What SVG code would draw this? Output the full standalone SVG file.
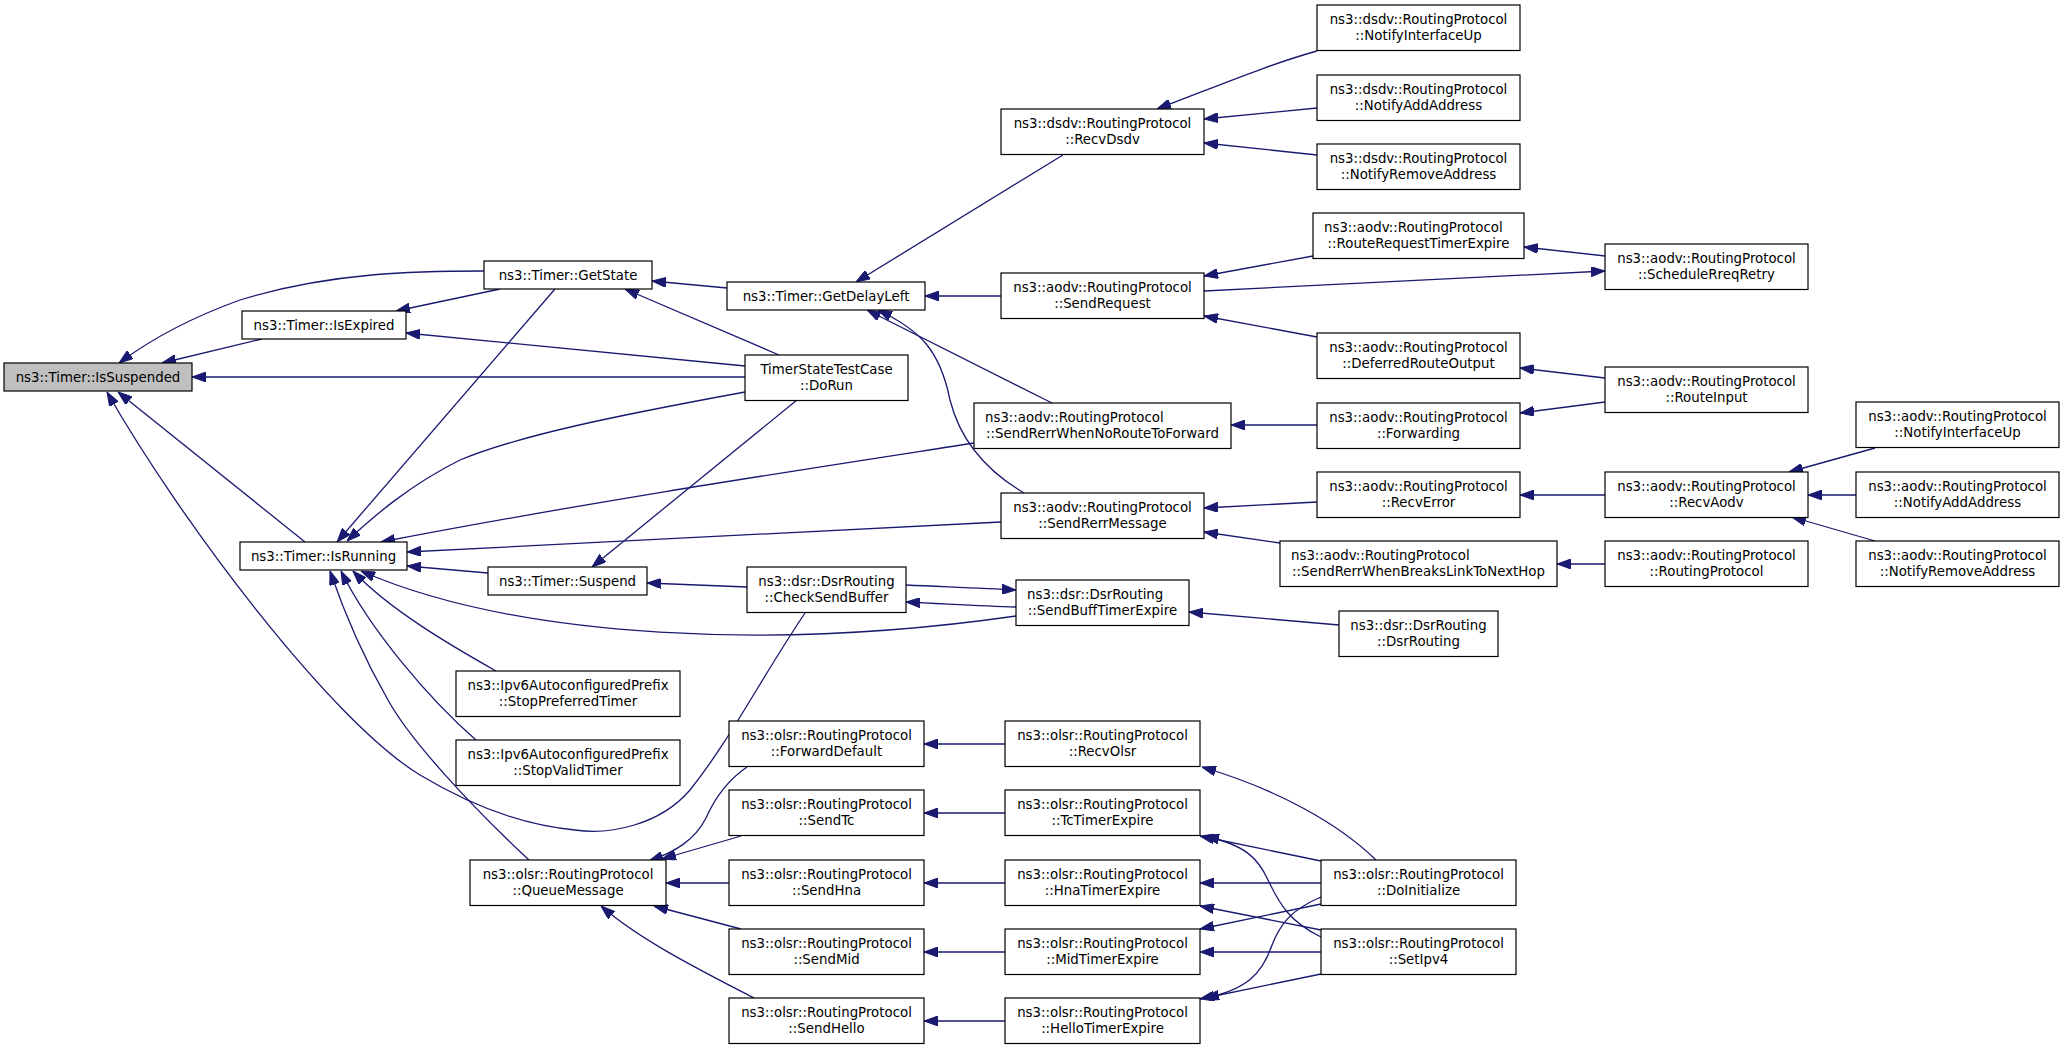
<svg xmlns="http://www.w3.org/2000/svg" width="2064" height="1049" viewBox="0 0 2064 1049">
<style>
.node rect{fill:#ffffff;stroke:#000000;stroke-width:1.2}
.node text{font-family:"DejaVu Sans","Liberation Sans",sans-serif;font-size:13.33px;fill:#000000;text-anchor:middle}
.node text.l{text-anchor:start}
#n0 rect{fill:#bfbfbf}
.edges path{fill:none;stroke:#191970;stroke-width:1.3;marker-end:url(#ah)}
</style>
<defs>
<marker id="ah" viewBox="0 0 14 10" refX="14" refY="5" markerWidth="14" markerHeight="10" markerUnits="userSpaceOnUse" orient="auto">
<path d="M0,0 L14,5 L0,10 z" fill="#191970" stroke="#191970" stroke-width="1"/>
</marker>
</defs>
<rect x="0" y="0" width="2064" height="1049" fill="#ffffff"/>
<g id="edges" class="edges">
<path d="M484,271 C420,271 330,272 240,300 C190,318 150,340 119,363"/>
<path d="M262,339 L162,363"/>
<path d="M500,289 L396,311"/>
<path d="M727,288 L652,281"/>
<path d="M779,355 L625,289"/>
<path d="M745,366 L406,333"/>
<path d="M745,377 L192,377"/>
<path d="M555,289 L337,542"/>
<path d="M745,392 C620,415 520,435 460,460 C410,485 375,515 347,541"/>
<path d="M974,443 C800,470 600,500 381,542"/>
<path d="M1001,522 L407,552"/>
<path d="M488,573 L407,566"/>
<path d="M1016,616 C780,650 520,640 361,571"/>
<path d="M496,671 C450,645 390,610 353,571"/>
<path d="M476,740 C430,700 370,630 341,571"/>
<path d="M529,860 C470,805 410,740 388,700 C365,660 345,615 330,571"/>
<path d="M805,613 C760,680 730,740 690,790 C660,825 610,835 575,830 C520,825 470,805 420,775 C330,720 180,520 107,392"/>
<path d="M305,542 L118,392"/>
<path d="M1063,155 L856,282"/>
<path d="M1001,296 L925,296"/>
<path d="M1052,403 L867,310"/>
<path d="M1024,493 C985,470 960,440 950,400 C940,350 920,330 878,310"/>
<path d="M1317,51 C1270,64 1220,85 1157,109"/>
<path d="M1317,108 L1204,119"/>
<path d="M1317,155 L1204,143"/>
<path d="M1313,256 L1204,276"/>
<path d="M1204,291 L1605,271"/>
<path d="M1605,256 L1524,247"/>
<path d="M1317,337 L1204,316"/>
<path d="M1605,378 L1520,368"/>
<path d="M1605,402 L1520,413"/>
<path d="M1317,425 L1231,425"/>
<path d="M1317,502 L1204,508"/>
<path d="M1280,543 L1204,532"/>
<path d="M1605,495 L1520,495"/>
<path d="M1605,564 L1557,564"/>
<path d="M1875,448 L1789,472"/>
<path d="M1856,495 L1808,495"/>
<path d="M1875,541 L1792,517"/>
<path d="M797,400 L592,567"/>
<path d="M747,587 L647,583"/>
<path d="M906,585 C950,587 980,588 1016,590"/>
<path d="M1016,607 C980,606 950,604 906,602"/>
<path d="M1339,625 L1189,612"/>
<path d="M747,767 C725,782 714,800 706,818 C695,840 675,852 649,861"/>
<path d="M741,836 L662,859"/>
<path d="M729,883 L666,883"/>
<path d="M741,929 L654,906"/>
<path d="M754,998 C700,970 640,940 601,906"/>
<path d="M1005,744 L924,744"/>
<path d="M1005,813 L924,813"/>
<path d="M1005,883 L924,883"/>
<path d="M1005,952 L924,952"/>
<path d="M1005,1021 L924,1021"/>
<path d="M1376,860 C1340,825 1280,790 1202,767"/>
<path d="M1321,861 L1200,836"/>
<path d="M1321,937 C1290,922 1280,905 1268,880 C1258,858 1245,845 1205,836"/>
<path d="M1321,883 L1200,883"/>
<path d="M1321,930 L1200,906"/>
<path d="M1321,904 L1200,929"/>
<path d="M1321,952 L1200,952"/>
<path d="M1321,897 C1290,910 1280,925 1272,945 C1262,975 1245,990 1205,998"/>
<path d="M1321,974 L1200,999"/>
</g>
<g id="n0" class="node"><rect x="4" y="363" width="188" height="28"/><text x="98" y="381.7">ns3::Timer::IsSuspended</text></g>
<g id="n1" class="node"><rect x="484" y="261" width="168" height="28"/><text x="568" y="279.7">ns3::Timer::GetState</text></g>
<g id="n2" class="node"><rect x="242" y="311" width="164" height="28"/><text x="324" y="329.7">ns3::Timer::IsExpired</text></g>
<g id="n3" class="node"><rect x="240" y="542" width="167" height="28"/><text x="323.5" y="560.7">ns3::Timer::IsRunning</text></g>
<g id="n4" class="node"><rect x="727" y="282" width="198" height="28"/><text x="826" y="300.7">ns3::Timer::GetDelayLeft</text></g>
<g id="n5" class="node"><rect x="745" y="355" width="163" height="45.5"/><text x="826.5" y="373.5">TimerStateTestCase</text><text x="826.5" y="390">::DoRun</text></g>
<g id="n6" class="node"><rect x="488" y="567" width="159" height="28"/><text x="567.5" y="585.7">ns3::Timer::Suspend</text></g>
<g id="n7" class="node"><rect x="456" y="671" width="224" height="45.5"/><text x="568" y="689.5">ns3::Ipv6AutoconfiguredPrefix</text><text x="568" y="706">::StopPreferredTimer</text></g>
<g id="n8" class="node"><rect x="456" y="740" width="224" height="45.5"/><text x="568" y="758.5">ns3::Ipv6AutoconfiguredPrefix</text><text x="568" y="775">::StopValidTimer</text></g>
<g id="n9" class="node"><rect x="470" y="860" width="196" height="45.5"/><text x="568" y="878.5">ns3::olsr::RoutingProtocol</text><text x="568" y="895">::QueueMessage</text></g>
<g id="n10" class="node"><rect x="1001" y="109" width="203" height="45.5"/><text x="1102.5" y="127.5">ns3::dsdv::RoutingProtocol</text><text x="1102.5" y="144">::RecvDsdv</text></g>
<g id="n11" class="node"><rect x="1001" y="273" width="203" height="45.5"/><text x="1102.5" y="291.5">ns3::aodv::RoutingProtocol</text><text x="1102.5" y="308">::SendRequest</text></g>
<g id="n12" class="node"><rect x="974" y="403" width="257" height="45.5"/><text class="l" x="985" y="421.5">ns3::aodv::RoutingProtocol</text><text x="1102.5" y="438">::SendRerrWhenNoRouteToForward</text></g>
<g id="n13" class="node"><rect x="1001" y="493" width="203" height="45.5"/><text x="1102.5" y="511.5">ns3::aodv::RoutingProtocol</text><text x="1102.5" y="528">::SendRerrMessage</text></g>
<g id="n14" class="node"><rect x="747" y="567" width="159" height="45.5"/><text x="826.5" y="585.5">ns3::dsr::DsrRouting</text><text x="826.5" y="602">::CheckSendBuffer</text></g>
<g id="n15" class="node"><rect x="1016" y="580" width="173" height="45.5"/><text class="l" x="1027" y="598.5">ns3::dsr::DsrRouting</text><text x="1102.5" y="615">::SendBuffTimerExpire</text></g>
<g id="n16" class="node"><rect x="729" y="721" width="195" height="45.5"/><text x="826.5" y="739.5">ns3::olsr::RoutingProtocol</text><text x="826.5" y="756">::ForwardDefault</text></g>
<g id="n17" class="node"><rect x="729" y="790" width="195" height="45.5"/><text x="826.5" y="808.5">ns3::olsr::RoutingProtocol</text><text x="826.5" y="825">::SendTc</text></g>
<g id="n18" class="node"><rect x="729" y="860" width="195" height="45.5"/><text x="826.5" y="878.5">ns3::olsr::RoutingProtocol</text><text x="826.5" y="895">::SendHna</text></g>
<g id="n19" class="node"><rect x="729" y="929" width="195" height="45.5"/><text x="826.5" y="947.5">ns3::olsr::RoutingProtocol</text><text x="826.5" y="964">::SendMid</text></g>
<g id="n20" class="node"><rect x="729" y="998" width="195" height="45.5"/><text x="826.5" y="1016.5">ns3::olsr::RoutingProtocol</text><text x="826.5" y="1033">::SendHello</text></g>
<g id="n21" class="node"><rect x="1317" y="5" width="203" height="45.5"/><text x="1418.5" y="23.5">ns3::dsdv::RoutingProtocol</text><text x="1418.5" y="40">::NotifyInterfaceUp</text></g>
<g id="n22" class="node"><rect x="1317" y="75" width="203" height="45.5"/><text x="1418.5" y="93.5">ns3::dsdv::RoutingProtocol</text><text x="1418.5" y="110">::NotifyAddAddress</text></g>
<g id="n23" class="node"><rect x="1317" y="144" width="203" height="45.5"/><text x="1418.5" y="162.5">ns3::dsdv::RoutingProtocol</text><text x="1418.5" y="179">::NotifyRemoveAddress</text></g>
<g id="n24" class="node"><rect x="1313" y="213" width="211" height="45.5"/><text class="l" x="1324" y="231.5">ns3::aodv::RoutingProtocol</text><text x="1418.5" y="248">::RouteRequestTimerExpire</text></g>
<g id="n25" class="node"><rect x="1605" y="244" width="203" height="45.5"/><text x="1706.5" y="262.5">ns3::aodv::RoutingProtocol</text><text x="1706.5" y="279">::ScheduleRreqRetry</text></g>
<g id="n26" class="node"><rect x="1317" y="333" width="203" height="45.5"/><text x="1418.5" y="351.5">ns3::aodv::RoutingProtocol</text><text x="1418.5" y="368">::DeferredRouteOutput</text></g>
<g id="n27" class="node"><rect x="1605" y="367" width="203" height="45.5"/><text x="1706.5" y="385.5">ns3::aodv::RoutingProtocol</text><text x="1706.5" y="402">::RouteInput</text></g>
<g id="n28" class="node"><rect x="1317" y="403" width="203" height="45.5"/><text x="1418.5" y="421.5">ns3::aodv::RoutingProtocol</text><text x="1418.5" y="438">::Forwarding</text></g>
<g id="n29" class="node"><rect x="1317" y="472" width="203" height="45.5"/><text x="1418.5" y="490.5">ns3::aodv::RoutingProtocol</text><text x="1418.5" y="507">::RecvError</text></g>
<g id="n30" class="node"><rect x="1280" y="541" width="277" height="45.5"/><text class="l" x="1291" y="559.5">ns3::aodv::RoutingProtocol</text><text x="1418.5" y="576">::SendRerrWhenBreaksLinkToNextHop</text></g>
<g id="n31" class="node"><rect x="1605" y="472" width="203" height="45.5"/><text x="1706.5" y="490.5">ns3::aodv::RoutingProtocol</text><text x="1706.5" y="507">::RecvAodv</text></g>
<g id="n32" class="node"><rect x="1605" y="541" width="203" height="45.5"/><text x="1706.5" y="559.5">ns3::aodv::RoutingProtocol</text><text x="1706.5" y="576">::RoutingProtocol</text></g>
<g id="n33" class="node"><rect x="1856" y="402" width="203" height="45.5"/><text x="1957.5" y="420.5">ns3::aodv::RoutingProtocol</text><text x="1957.5" y="437">::NotifyInterfaceUp</text></g>
<g id="n34" class="node"><rect x="1856" y="472" width="203" height="45.5"/><text x="1957.5" y="490.5">ns3::aodv::RoutingProtocol</text><text x="1957.5" y="507">::NotifyAddAddress</text></g>
<g id="n35" class="node"><rect x="1856" y="541" width="203" height="45.5"/><text x="1957.5" y="559.5">ns3::aodv::RoutingProtocol</text><text x="1957.5" y="576">::NotifyRemoveAddress</text></g>
<g id="n36" class="node"><rect x="1339" y="611" width="159" height="45.5"/><text x="1418.5" y="629.5">ns3::dsr::DsrRouting</text><text x="1418.5" y="646">::DsrRouting</text></g>
<g id="n37" class="node"><rect x="1005" y="721" width="195" height="45.5"/><text x="1102.5" y="739.5">ns3::olsr::RoutingProtocol</text><text x="1102.5" y="756">::RecvOlsr</text></g>
<g id="n38" class="node"><rect x="1005" y="790" width="195" height="45.5"/><text x="1102.5" y="808.5">ns3::olsr::RoutingProtocol</text><text x="1102.5" y="825">::TcTimerExpire</text></g>
<g id="n39" class="node"><rect x="1005" y="860" width="195" height="45.5"/><text x="1102.5" y="878.5">ns3::olsr::RoutingProtocol</text><text x="1102.5" y="895">::HnaTimerExpire</text></g>
<g id="n40" class="node"><rect x="1005" y="929" width="195" height="45.5"/><text x="1102.5" y="947.5">ns3::olsr::RoutingProtocol</text><text x="1102.5" y="964">::MidTimerExpire</text></g>
<g id="n41" class="node"><rect x="1005" y="998" width="195" height="45.5"/><text x="1102.5" y="1016.5">ns3::olsr::RoutingProtocol</text><text x="1102.5" y="1033">::HelloTimerExpire</text></g>
<g id="n42" class="node"><rect x="1321" y="860" width="195" height="45.5"/><text x="1418.5" y="878.5">ns3::olsr::RoutingProtocol</text><text x="1418.5" y="895">::DoInitialize</text></g>
<g id="n43" class="node"><rect x="1321" y="929" width="195" height="45.5"/><text x="1418.5" y="947.5">ns3::olsr::RoutingProtocol</text><text x="1418.5" y="964">::SetIpv4</text></g>
</svg>
